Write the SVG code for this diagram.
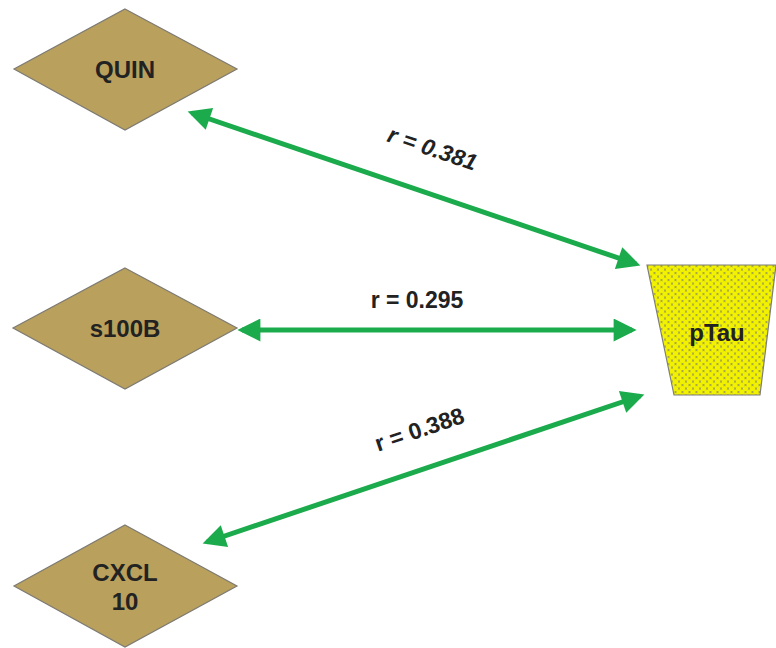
<svg xmlns="http://www.w3.org/2000/svg" width="776" height="648" viewBox="0 0 776 648">
  <style>
    .dia { fill: #b9a05c; stroke: #7d7a72; stroke-width: 1.2; }
    .lbl { font-family: "Liberation Sans", Arial, sans-serif; font-weight: bold; font-size: 24px; fill: #222222; text-anchor: middle; }
    .edge { stroke: #1bab4c; stroke-width: 5; fill: none; marker-start: url(#head); marker-end: url(#head); }
    .r { font-family: "Liberation Sans", Arial, sans-serif; font-weight: bold; font-size: 23px; fill: #222222; text-anchor: middle; }
  </style>
  <defs>
    <marker id="head" viewBox="0 0 10 10" refX="8" refY="5" markerWidth="6" markerHeight="4.6" orient="auto-start-reverse" markerUnits="strokeWidth">
      <path d="M0,0 L10,5 L0,10 Z" fill="#1bab4c"/>
    </marker>
    <pattern id="dots" width="7" height="7" patternUnits="userSpaceOnUse">
      <rect width="7" height="7" fill="#a9a846"/>
      <circle cx="0" cy="0" r="2.6" fill="#f2f200"/>
      <circle cx="7" cy="0" r="2.6" fill="#f2f200"/>
      <circle cx="0" cy="7" r="2.6" fill="#f2f200"/>
      <circle cx="7" cy="7" r="2.6" fill="#f2f200"/>
      <circle cx="3.5" cy="3.5" r="2.6" fill="#f2f200"/>
    </pattern>
  </defs>

  <g id="connectors">
    <line class="edge" x1="192" y1="113" x2="636" y2="264"/>
    <line class="edge" x1="242" y1="330" x2="632" y2="330"/>
    <line class="edge" x1="207" y1="542" x2="640" y2="396"/>
    <text class="r" font-style="italic" transform="translate(430,156) rotate(18.8)">r = 0.381</text>
    <text class="r" x="417" y="308">r = 0.295</text>
    <text class="r" transform="translate(422,437) rotate(-18.7)">r = 0.388</text>
  </g>

  <g id="quin">
    <polygon class="dia" points="125,9 237,69 125,130 14,69"/>
    <text class="lbl" x="125" y="78">QUIN</text>
  </g>

  <g id="s100b">
    <polygon class="dia" points="125,268 237,328 125,389 13,328"/>
    <text class="lbl" x="125" y="337">s100B</text>
  </g>

  <g id="cxcl10">
    <polygon class="dia" points="125,525 237,586 125,647 14,586"/>
    <text class="lbl" x="125" y="581">CXCL</text>
    <text class="lbl" x="125" y="610">10</text>
  </g>

  <g id="ptau">
    <polygon points="647,265 776,265 760,395 674,395" fill="url(#dots)" stroke="#7d7d7d" stroke-width="1.2"/>
    <text class="lbl" x="717" y="341" font-size="26">pTau</text>
  </g>
</svg>
